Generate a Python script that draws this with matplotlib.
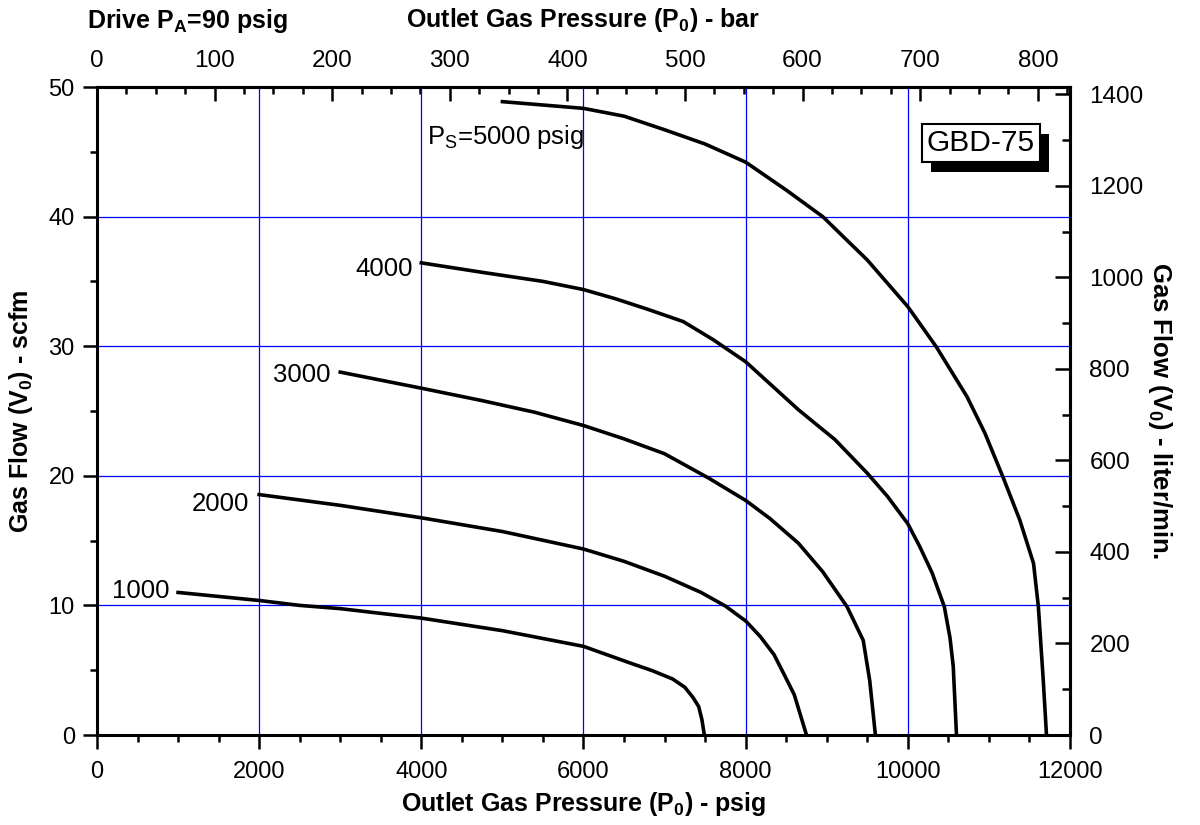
import matplotlib
matplotlib.use("Agg")
import numpy as np
import matplotlib.pyplot as plt
import matplotlib.patheffects as pe
from matplotlib.ticker import MultipleLocator

plt.rcParams["font.family"] = ["Liberation Sans", "DejaVu Sans"]
plt.rcParams["mathtext.fontset"] = "custom"
plt.rcParams["mathtext.rm"] = "Liberation Sans"
plt.rcParams["mathtext.bf"] = "Liberation Sans:bold"
plt.rcParams["mathtext.it"] = "Liberation Sans:italic"

# outlet pressure (psig) vs gas flow (scfm), one curve per supply pressure
p_1000 = [1000, 2000, 2500, 3000, 4000, 5000, 6000, 6600, 6850, 7100, 7250, 7350, 7420, 7460, 7490]
v_1000 = [11.0, 10.38, 10.0, 9.75, 9.02, 8.05, 6.84, 5.5, 4.96, 4.32, 3.68, 2.9, 2.2, 1.2, 0]

p_2000 = [2000, 3000, 4000, 5000, 6000, 6500, 7000, 7450, 7750, 8000, 8180, 8350, 8480, 8600, 8750]
v_2000 = [18.55, 17.72, 16.76, 15.7, 14.35, 13.4, 12.25, 11.0, 9.95, 8.8, 7.6, 6.2, 4.6, 3.1, 0]

p_3000 = [3000, 4000, 4750, 5400, 6000, 6500, 7000, 7550, 8000, 8300, 8650, 8950, 9250, 9450, 9530, 9600]
v_3000 = [28.0, 26.76, 25.8, 24.9, 23.88, 22.85, 21.7, 19.8, 18.1, 16.7, 14.8, 12.6, 9.9, 7.3, 4.2, 0]

p_4000 = [4000, 4750, 5500, 6000, 6400, 6800, 7230, 7600, 8000, 8650, 9100, 9500, 9750,
          10000, 10150, 10300, 10450, 10520, 10560, 10600]
v_4000 = [36.43, 35.7, 35.0, 34.37, 33.65, 32.83, 31.9, 30.5, 28.8, 25.1, 22.8, 20.2, 18.4,
          16.3, 14.5, 12.5, 9.9, 7.5, 5.3, 0]

p_5000 = [5000, 6000, 6500, 7000, 7500, 8000, 8500, 8950, 9500, 10000, 10350, 10730, 10950,
          11180, 11380, 11550, 11610, 11670, 11710]
v_5000 = [48.87, 48.35, 47.75, 46.7, 45.6, 44.2, 42.05, 40.0, 36.65, 33.05, 29.96, 26.1, 23.3,
          19.8, 16.6, 13.25, 9.9, 4.24, 0]

curves = [(p_1000, v_1000), (p_2000, v_2000), (p_3000, v_3000), (p_4000, v_4000), (p_5000, v_5000)]

# curve labels: text, x, y (data units)
curve_labels = ["1000", "2000", "3000", "4000"]
label_x = [900, 1875, 2874, 3897]
label_y = [10.57, 17.3, 27.26, 35.4]

# secondary scales
bar_ticks = np.arange(0, 801, 100)
bar_minor = np.arange(0, 826, 25)
lpm_ticks = np.arange(0, 1401, 200)
lpm_minor = np.arange(0, 1401, 100)

PSI_PER_BAR = 14.5038
LPM_PER_SCFM = 28.317

fig = plt.figure(figsize=(12, 8.25), dpi=100)
ax = fig.add_axes([97 / 1200, 90 / 825, 973 / 1200, 648 / 825])

for p, v in curves:
    ax.plot(p, v, color="black", lw=2.6, solid_joinstyle="round", zorder=3)

for txt, x, y in zip(curve_labels, label_x, label_y):
    ax.text(x, y, txt, ha="right", va="baseline", fontsize=18.5)
ax.text(4070, 45.6, r"P$_\mathrm{S}$=5000 psig", ha="left", va="baseline", fontsize=18.5)

# boxed model name with drop shadow
name = ax.text(10903, 45.7, "GBD-75", ha="center", va="center", fontsize=21.5,
               bbox=dict(boxstyle="square,pad=0.16", fc="white", ec="black", lw=1.5), zorder=5)
name.get_bbox_patch().set_path_effects([
    pe.SimplePatchShadow(offset=(6.5, -7.2), shadow_rgbFace="black", alpha=1.0),
    pe.Normal()])

ax.set_xlim(0, 12000)
ax.set_ylim(0, 50)
ax.xaxis.set_major_locator(MultipleLocator(2000))
ax.xaxis.set_minor_locator(MultipleLocator(500))
ax.yaxis.set_major_locator(MultipleLocator(10))
ax.yaxis.set_minor_locator(MultipleLocator(5))
ax.grid(which="major", color="#0000ff", lw=0.9, zorder=1)
ax.set_axisbelow(True)

for s in ax.spines.values():
    s.set_linewidth(2.2)

ax.tick_params(which="major", direction="out", length=10, width=1.8, labelsize=17, pad=9)
ax.tick_params(which="minor", direction="out", length=5, width=1.8)
ax.tick_params(axis="y", pad=6)

ax.set_xlabel(r"Outlet Gas Pressure (P$_\mathbf{0}$) - psig", fontsize=18, fontweight="bold", labelpad=5)
ax.set_ylabel(r"Gas Flow (V$_\mathbf{0}$) - scfm", fontsize=18, fontweight="bold", labelpad=10)

# top axis in bar
top = ax.secondary_xaxis("top", functions=(lambda p: p / PSI_PER_BAR, lambda b: b * PSI_PER_BAR))
top.set_xticks(bar_ticks)
top.set_xticks(bar_minor, minor=True)
top.tick_params(which="major", direction="in", length=10, width=1.8, labelsize=17.5, pad=11)
top.tick_params(which="minor", direction="in", length=5, width=1.8)
top.spines["top"].set_linewidth(2.2)
top.set_xlabel(r"Outlet Gas Pressure (P$_\mathbf{0}$) - bar", fontsize=18, fontweight="bold", labelpad=16)

# right axis in liter/min
right = ax.secondary_yaxis("right", functions=(lambda v: v * LPM_PER_SCFM, lambda l: l / LPM_PER_SCFM))
right.set_yticks(lpm_ticks)
right.set_yticks(lpm_minor, minor=True)
right.tick_params(which="major", direction="in", length=11, width=1.8, labelsize=17.5, pad=14)
right.tick_params(which="minor", direction="in", length=6, width=1.8)
right.spines["right"].set_linewidth(2.2)
right.set_ylabel(r"Gas Flow (V$_\mathbf{0}$) - liter/min.", fontsize=18.5, fontweight="bold",
                 rotation=270, labelpad=22)

ax.tick_params(top=False, right=False)

fig.text(87 / 1200, 1 - 21 / 825, r"Drive P$_\mathbf{A}$=90 psig", ha="left", va="center",
         fontsize=18, fontweight="bold")

fig.savefig("out.png", dpi=100, facecolor="white")
